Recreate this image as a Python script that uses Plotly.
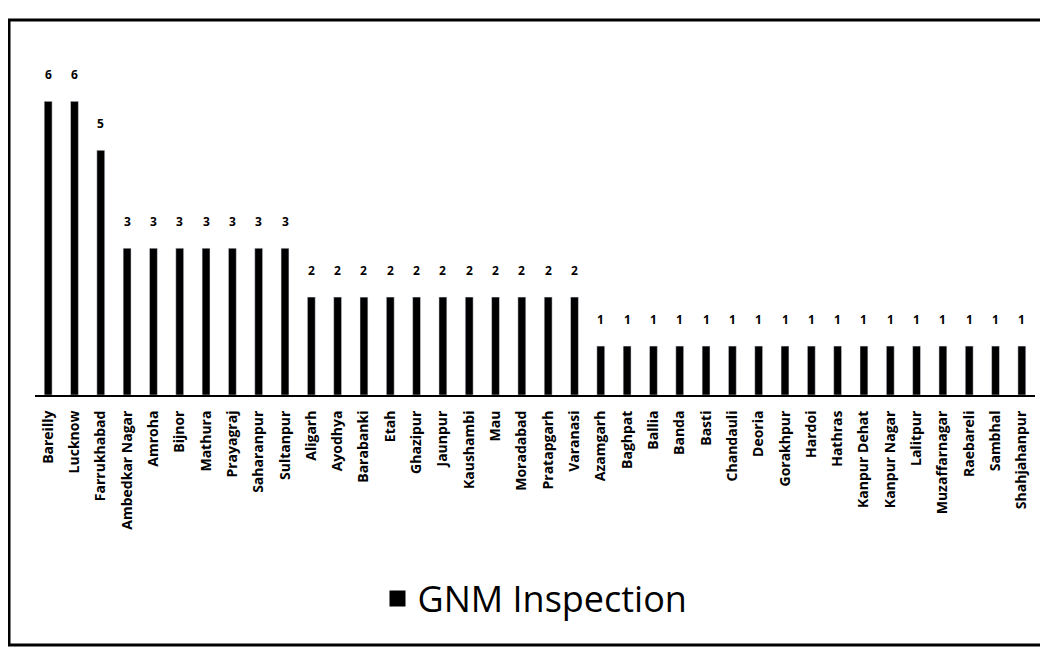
import plotly.graph_objects as go

districts = ["Bareilly", "Lucknow", "Farrukhabad", "Ambedkar Nagar", "Amroha", "Bijnor",
             "Mathura", "Prayagraj", "Saharanpur", "Sultanpur", "Aligarh", "Ayodhya",
             "Barabanki", "Etah", "Ghazipur", "Jaunpur", "Kaushambi", "Mau", "Moradabad",
             "Pratapgarh", "Varanasi", "Azamgarh", "Baghpat", "Ballia", "Banda", "Basti",
             "Chandauli", "Deoria", "Gorakhpur", "Hardoi", "Hathras", "Kanpur Dehat",
             "Kanpur Nagar", "Lalitpur", "Muzaffarnagar", "Raebareli", "Sambhal", "Shahjahanpur"]
inspections = [6, 6, 5, 3, 3, 3, 3, 3, 3, 3, 2, 2, 2, 2, 2, 2, 2, 2, 2, 2, 2,
               1, 1, 1, 1, 1, 1, 1, 1, 1, 1, 1, 1, 1, 1, 1, 1, 1]
series_name = "GNM Inspection"

fig = go.Figure()
fig.add_trace(go.Bar(
    x=districts, y=inspections, name=series_name,
    marker=dict(color="black"), showlegend=False,
))
# legend-only entry with a larger square swatch
fig.add_trace(go.Scatter(
    x=[None], y=[None], mode="markers", name=series_name,
    marker=dict(symbol="square", size=16, color="black"),
))

annotations = [dict(x=d, y=v, text=str(v), showarrow=False, yanchor="bottom", yshift=16,
                    font=dict(size=12, color="black", family="Open Sans", weight="bold"))
               for d, v in zip(districts, inspections)]

fig.update_layout(
    width=1040, height=644,
    paper_bgcolor="white", plot_bgcolor="white",
    margin=dict(l=27, r=13, t=64, b=257),
    bargap=0.7,
    showlegend=True,
    legend=dict(orientation="h", x=0.5, xanchor="center", y=-0.63, yanchor="middle",
                font=dict(size=36, family="Open Sans", color="black"), itemsizing="trace"),
    font=dict(family="Open Sans", color="black"),
    xaxis=dict(tickangle=-90, tickfont=dict(size=14, color="black", weight="bold"),
               ticklabelstandoff=8,
               showline=True, linecolor="black", linewidth=2, ticks=""),
    yaxis=dict(visible=False, range=[0, 6.6]),
    annotations=annotations,
    shapes=[dict(type="rect", xref="paper", yref="paper",
                 x0=-0.026, x1=1.01, y0=-0.774, y1=1.161,
                 line=dict(color="black", width=3))],
)

fig.write_html("out.html")
